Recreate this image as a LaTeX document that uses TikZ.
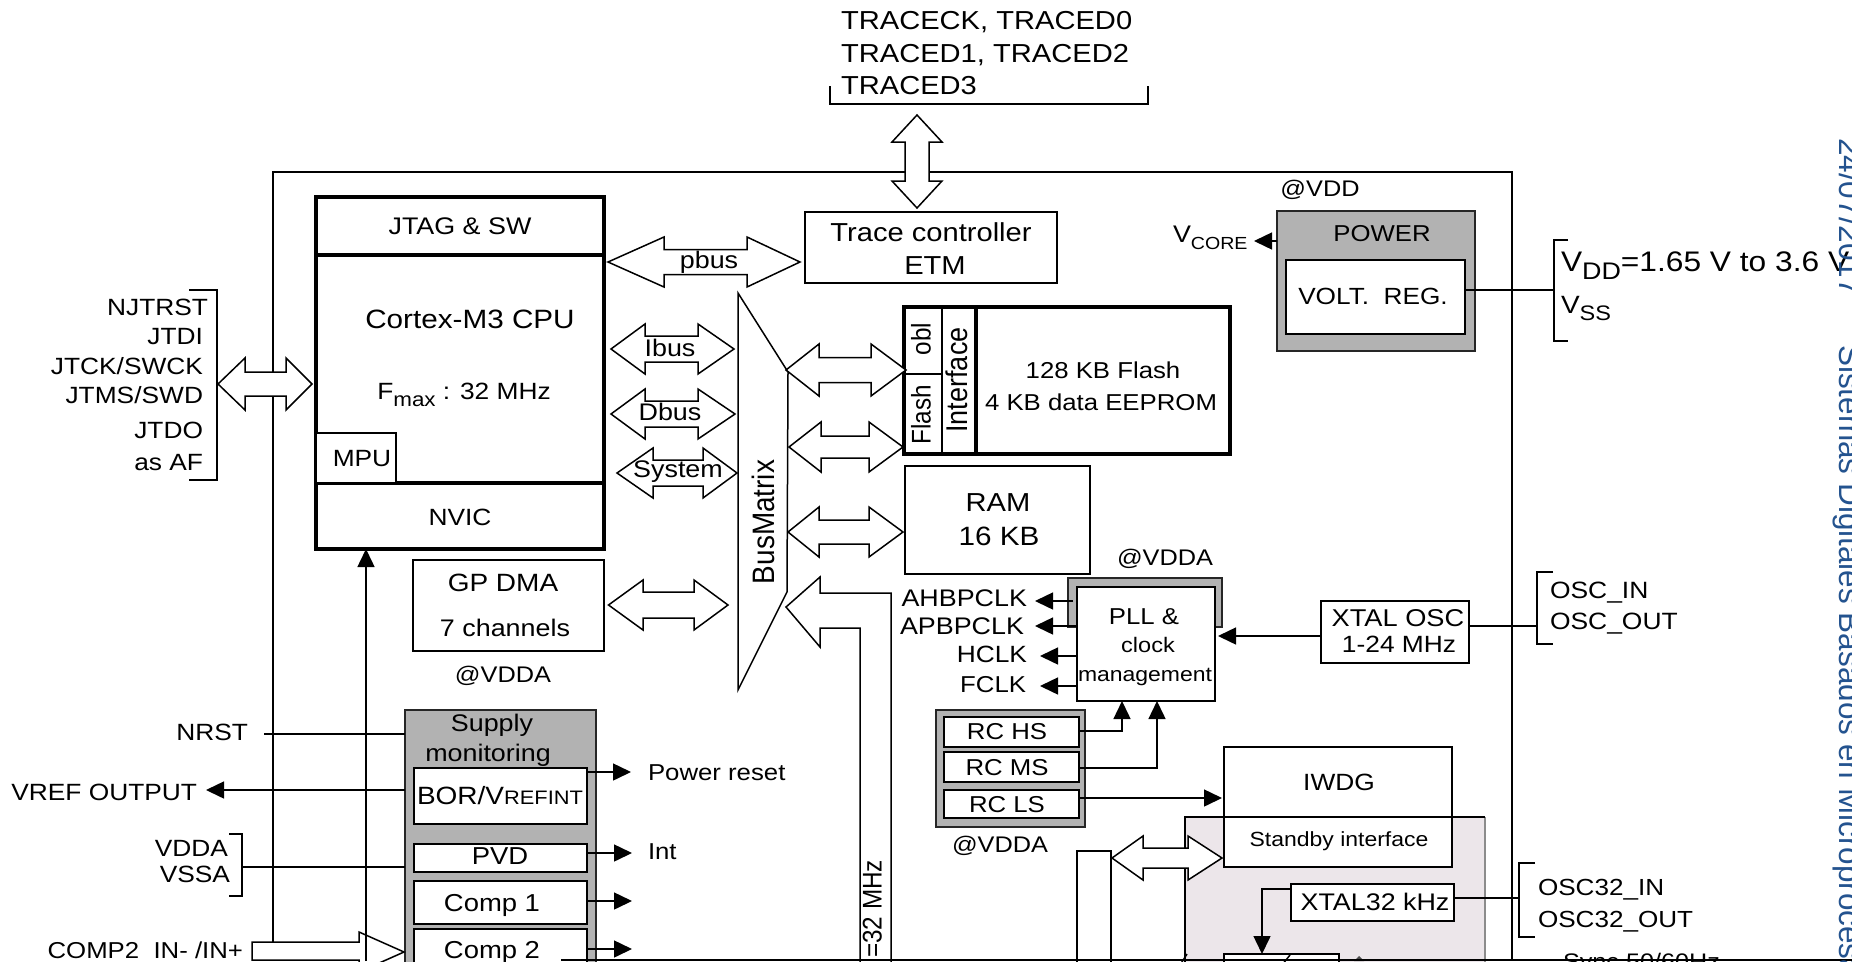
\documentclass[tikz,border=0pt]{standalone}
\usepackage{fontspec}
\setmainfont{Liberation Sans}[FakeStretch=1.12]
\newfontfamily\rotfont{Liberation Sans}[FakeStretch=0.9]
\newfontfamily\bluefont{Liberation Sans}
\usetikzlibrary{arrows.meta}
\definecolor{gbox}{HTML}{B2B2B2}
\definecolor{pinkb}{HTML}{ECE6EA}
\definecolor{blueb}{HTML}{24538F}
\tikzset{
  txt/.style={font={\fontsize{#1}{#1}\selectfont},inner sep=0pt,outer sep=0pt,text height={0.72*#1 pt},text depth=0pt,align=center,text=black},
  rtxt/.style={font={\rotfont\fontsize{#1}{#1}\selectfont},inner sep=0pt,outer sep=0pt,text height={0.72*#1 pt},text depth=0pt,rotate=90,text=black},
  thin box/.style={draw=black,line width=1.4pt,fill=white},
  thick box/.style={draw=black,line width=3.6pt},
  gray box/.style={draw=black!85,line width=1.6pt,fill=gbox},
  wire/.style={draw=black,line width=1.5pt},
  arr/.style={draw=black,line width=1.5pt,-{Triangle[length=18pt,width=17pt]}},
  bigarrow/.style={draw=black,line width=1.5pt,fill=white,line join=miter},
  bluetxt/.style={font={\bluefont\fontsize{31.5}{31.5}\selectfont},text=blueb,rotate=-90,anchor=base west,inner sep=0pt},
}
% name, style, x1, y1, x2, y2
\newcommand{\mybox}[6]{\node[#2,minimum width={(#5-(#3))*1pt},minimum height={(#6-(#4))*1pt},inner sep=0pt,outer sep=0pt] (#1) at ({(#3+#5)/2},{(#4+#6)/2}) {};}
% horizontal double block arrow: xtip1, xbase1, xbase2, xtip2, y, head half, shaft half
\newcommand{\hdouble}[7]{\path[bigarrow] (#1,#5) -- (#2,#5-#6) -- (#2,#5-#7) -- (#3,#5-#7) -- (#3,#5-#6) -- (#4,#5) -- (#3,#5+#6) -- (#3,#5+#7) -- (#2,#5+#7) -- (#2,#5+#6) -- cycle;}
\newcommand{\lowtxt}[2]{\raisebox{-0.28em}{\fontsize{#1}{#1}\selectfont #2}}
\begin{document}
\begin{tikzpicture}[x=1pt,y=-1pt]
\useasboundingbox (0,0) rectangle (1852,961);
\clip (0,0) rectangle (1852,961);
\fill[white] (0,0) rectangle (1852,961);

% outer frame
\coordinate (frameBL) at (273,942);
\coordinate (frameTL) at (273,172);
\coordinate (frameTR) at (1512,172);
\coordinate (frameBR) at (1512,961);
\draw[wire] (frameBL) -- (frameTL) -- (frameTR) -- (frameBR);

% trace pins
\node[txt=26,anchor=west] (tr1) at (841,20) {TRACECK, TRACED0};
\node[txt=26,anchor=west] (tr2) at (841,53) {TRACED1, TRACED2};
\node[txt=26,anchor=west] (tr3) at (841,85) {TRACED3};
\draw[wire] (830,86) -- (830,104) -- (1148,104) -- (1148,86);
\path[bigarrow] (917,115) -- (942,142) -- (929,142) -- (929,181) -- (942,181) -- (917,208) -- (892,181) -- (905,181) -- (905,142) -- (892,142) -- cycle;

% CPU
\mybox{jtag}{thick box}{316}{197}{604}{255}
\mybox{cpu}{thick box}{316}{255}{604}{483}
\mybox{nvic}{thick box}{316}{483}{604}{549}
\mybox{mpu}{thin box}{316}{433}{396}{483}
\node[txt=24] (tjtag) at (460,226) {JTAG \& SW};
\node[txt=26.5] (tcpu) at (470,319) {Cortex-M3 CPU};
\node[txt=23.5] (tfmax) at (464,391) {F\lowtxt{20}{max} : 32 MHz};
\node[txt=23.5] (tmpu) at (362,458) {MPU};
\node[txt=23.5] (tnvic) at (460,517) {NVIC};

% JTAG pins
\draw[wire] (189,290) -- (217,290) -- (217,480) -- (189,480);
\node[txt=23.5,anchor=east] (p1) at (208,307) {NJTRST};
\node[txt=23.5,anchor=east] (p2) at (203,336) {JTDI};
\node[txt=23.5,anchor=east] (p3) at (203,366) {JTCK/SWCK};
\node[txt=23.5,anchor=east] (p4) at (203,395) {JTMS/SWD};
\node[txt=23.5,anchor=east] (p5) at (203,430) {JTDO};
\node[txt=23.5,anchor=east] (p6) at (203,462) {as AF};
\hdouble{218}{245}{286}{312}{384}{26}{12}

% Trace controller
\mybox{trace}{thin box}{805}{212}{1057}{283}
\node[txt=26] (ttrace) at (931,232) {Trace controller};
\node[txt=26] (tetm) at (935,265) {ETM};
\hdouble{608}{664}{747}{800}{262}{25}{12.5}
\node[txt=24] (tpbus) at (709,260) {pbus};

% Bus matrix
\path[bigarrow] (738,293) -- (788,372) -- (787,592) -- (738,690) -- cycle;
\node[rtxt=31] (tbm) at (763,522) {BusMatrix};

\hdouble{611}{645}{698}{734}{349}{25}{13}
\node[txt=24] (tibus) at (670,348) {Ibus};
\hdouble{611}{645}{698}{735}{414}{25}{13}
\node[txt=24] (tdbus) at (670,412) {Dbus};
\hdouble{617}{653}{703}{737}{473}{25}{13}
\node[txt=24] (tsys) at (678,469) {System};

% Flash
\mybox{mem}{thin box}{976}{307}{1230}{454}
\mybox{ifc}{thin box}{942}{307}{976}{454}
\mybox{obl}{thin box}{904}{307}{942}{374}
\mybox{fl}{thin box}{904}{374}{942}{454}
\draw[thick box] (904,307) rectangle (1230,454);
\draw[thick box] (976,307) -- (976,454);
\node[rtxt=27] (tobl) at (921,339) {obl};
\node[rtxt=27] (tfl) at (921,415) {Flash};
\node[rtxt=30] (tif) at (957,380) {Interface};
\node[txt=23] (tf1) at (1103,370) {128 KB Flash};
\node[txt=23] (tf2) at (1101,402) {4 KB data EEPROM};
\hdouble{786}{819}{871}{906}{370}{26}{12.5}
\hdouble{789}{821}{869}{903}{447}{25}{11}
\hdouble{788}{819}{869}{903}{532}{25}{12}

% RAM
\mybox{ram}{thin box}{905}{466}{1090}{574}
\node[txt=26] (tram) at (998,502) {RAM};
\node[txt=26.5] (tram2) at (999,536) {16 KB};

% Power
\mybox{power}{gray box}{1277}{211}{1475}{351}
\mybox{volt}{thin box}{1286}{260}{1465}{334}
\node[txt=23] (tpow) at (1382,233) {POWER};
\node[txt=23.4] (tvolt) at (1373,296) {VOLT.\ \ REG.};
\node[txt=22.6] (tvdd) at (1320,188) {@VDD};
\node[txt=24,anchor=west] (tcore) at (1173,234) {V\lowtxt{17.5}{CORE}};
\coordinate (coreT) at (1254,241);
\draw[arr] (power.west |- coreT) -- (coreT);
\coordinate (vddB) at (1554,290);
\draw[wire] (volt.east |- vddB) -- (vddB);
\draw[wire] (1568,240) -- (1554,240) -- (1554,341) -- (1568,341);
\node[txt=28.3,anchor=west] (tvd) at (1561,261) {V\lowtxt{24}{DD}=1.65 V to 3.6 V};
\node[txt=25,anchor=west] (tvs) at (1561,304) {V\lowtxt{21}{SS}};

% GP DMA
\mybox{dma}{thin box}{413}{560}{604}{651}
\node[txt=25] (tdma) at (503,582) {GP DMA};
\node[txt=24] (tdma2) at (505,628) {7 channels};
\node[txt=22.6] (tv1) at (503,674) {@VDDA};
\hdouble{608.5}{643}{694}{728}{605}{25}{13}

% AHB bus arrow
\path[bigarrow] (891,965) -- (891,593) -- (820,593) -- (820,577) -- (786,607) -- (820,647) -- (820,628) -- (860,628) -- (860,965);
\node[rtxt=27,anchor=east] (tmhz) at (872,860) {=32 MHz};

% PLL
\path[gray box] (1068,627) -- (1068,578) -- (1222,578) -- (1222,627) -- cycle;
\mybox{pll}{thin box}{1077}{587}{1215}{701}
\node[txt=23] (tpll) at (1144,616) {PLL \&};
\node[txt=21] (tclk) at (1148,645) {clock};
\node[txt=20.5] (tman) at (1145,674) {management};
\node[txt=22.6] (tv2) at (1165,557) {@VDDA};
\node[txt=24,anchor=east] (lahb) at (1027,598) {AHBPCLK};
\node[txt=24,anchor=east] (lapb) at (1024,626) {APBPCLK};
\node[txt=23.5,anchor=east] (lhck) at (1027,654) {HCLK};
\node[txt=23,anchor=east] (lfck) at (1026,684) {FCLK};
\coordinate (ahbT) at (1035,601);
\coordinate (apbT) at (1035,626);
\coordinate (hckT) at (1040,656);
\coordinate (fckT) at (1040,686);
\draw[arr] (1073,601) -- (ahbT);
\draw[arr] (pll.west |- apbT) -- (apbT);
\draw[arr] (pll.west |- hckT) -- (hckT);
\draw[arr] (pll.west |- fckT) -- (fckT);

% XTAL OSC
\mybox{xtal}{thin box}{1321}{601}{1469}{663}
\node[txt=24.3] (txt1) at (1398,618) {XTAL OSC};
\node[txt=23.5] (txt2) at (1399,644) {1-24 MHz};
\coordinate (xtalIn) at (1218,636);
\draw[arr] (xtal.west |- xtalIn) -- (xtalIn);
\coordinate (oscB) at (1537,626);
\draw[wire] (xtal.east |- oscB) -- (oscB);
\draw[wire] (1553,572) -- (1537,572) -- (1537,644) -- (1553,644);
\node[txt=23.6,anchor=west] (tosc1) at (1550,590) {OSC\_IN};
\node[txt=23.6,anchor=west] (tosc2) at (1550,621) {OSC\_OUT};

% RC group
\mybox{rcg}{gray box}{936}{710}{1085}{827}
\mybox{rchs}{thin box}{944}{717}{1079}{747}
\mybox{rcms}{thin box}{944}{752}{1079}{782}
\mybox{rcls}{thin box}{944}{790}{1079}{818}
\node[txt=23] (trc1) at (1007,731) {RC HS};
\node[txt=23] (trc2) at (1007,767) {RC MS};
\node[txt=23] (trc3) at (1007,804) {RC LS};
\node[txt=22.6] (tv3) at (1000,844) {@VDDA};
\coordinate (pa) at (1122,701);
\coordinate (pb) at (1157,701);
\coordinate (hsB) at (1122,731);
\coordinate (msB) at (1157,768);
\coordinate (lsT) at (1222,798);
\draw[arr] (rchs.east |- hsB) -- (hsB) -- (pa);
\draw[arr] (rcms.east |- msB) -- (msB) -- (pb);
\draw[arr] (rcls.east |- lsT) -- (lsT);

% Pink standby area
\path[fill=pinkb] (1185,817) rectangle (1485,965);
\draw[wire,draw=black!45] (1485,817) -- (1485,965);
\mybox{iwdg}{thin box}{1224}{747}{1452}{867}
\draw[wire] (1185,965) -- (1185,817) -- (1485,817);
\node[txt=23.5] (tiw) at (1339,782) {IWDG};
\node[txt=20.5] (tsb) at (1339,839) {Standby interface};
\path[bigarrow] (1077,965) -- (1077,851) -- (1111,851) -- (1111,965);
\hdouble{1112}{1143}{1188}{1222}{858}{22}{10}
\mybox{x32}{thin box}{1291}{884}{1454}{921}
\node[txt=24] (tx32) at (1375,902) {XTAL32 kHz};
\coordinate (x32B) at (1519,898);
\coordinate (rtcT) at (1262,954);
\coordinate (x32L) at (1262,889);
\draw[wire] (x32.east |- x32B) -- (x32B);
\draw[wire] (1535,863) -- (1519,863) -- (1519,937) -- (1535,937);
\node[txt=23.3,anchor=west] (to1) at (1538,887) {OSC32\_IN};
\node[txt=23.3,anchor=west] (to2) at (1538,919) {OSC32\_OUT};
\mybox{rtc}{thin box}{1224}{954}{1339}{990}
\draw[wire] (1290,955) -- (1282,965);
\draw[arr] (x32.west |- x32L) -- (x32L) -- (rtcT);
\draw[wire] (1187,954) -- (1180,965);
\fill[black!70] (1354,961) -- (1359,956) -- (1364,961) -- cycle;
\node[txt=22.5,anchor=west] (tsync) at (1563,961) {Sync 50/60Hz};

% Supply monitoring
\mybox{sup}{gray box}{405}{710}{596}{1000}
\mybox{bor}{thin box}{414}{768}{587}{824}
\mybox{pvd}{thin box}{414}{844}{587}{872}
\mybox{c1}{thin box}{414}{881}{587}{924}
\mybox{c2}{thin box}{414}{929}{587}{990}
\node[txt=24] (tsu1) at (492,723) {Supply};
\node[txt=24] (tsu2) at (488,753) {monitoring};
\node[txt=25] (tbor) at (500,795) {BOR/V\fontsize{19.5}{19.5}\selectfont REFINT};
\node[txt=24.5] (tpvd) at (500,856) {PVD};
\node[txt=24.5] (tc1) at (492,903) {Comp 1};
\node[txt=24.5] (tc2) at (492,950) {Comp 2};

\coordinate (prT) at (631,772);
\coordinate (intT) at (632,853);
\coordinate (c1T) at (632,901);
\coordinate (c2T) at (632,949);
\draw[arr] (bor.east |- prT) -- (prT);
\draw[arr] (pvd.east |- intT) -- (intT);
\draw[arr] (c1.east |- c1T) -- (c1T);
\draw[arr] (c2.east |- c2T) -- (c2T);
\node[txt=23,anchor=west] (tpr) at (648,772) {Power reset};
\node[txt=23,anchor=west] (tint) at (648,851) {Int};

\node[txt=23.5,anchor=east] (tnrst) at (248,732) {NRST};
\coordinate (nrstB) at (264,734);
\draw[wire] (nrstB) -- (sup.west |- nrstB);
\node[txt=23.5,anchor=east] (tvref) at (197,792) {VREF OUTPUT};
\coordinate (vrefT) at (206,790);
\draw[arr] (sup.west |- vrefT) -- (vrefT);
\node[txt=23.5,anchor=east] (tvda) at (228,848) {VDDA};
\node[txt=23.5,anchor=east] (tvsa) at (230,874) {VSSA};
\draw[wire] (229,834) -- (242,834) -- (242,896) -- (229,896);
\coordinate (vddaB) at (242,867);
\draw[wire] (vddaB) -- (sup.west |- vddaB);

% COMP2 input arrow
\path[bigarrow] (252,960) -- (252,942) -- (359,942) -- (359,932) -- (404,952) -- (359,972) -- (359,960) -- cycle;
\node[txt=23,anchor=east] (tcomp) at (243,950) {COMP2\ \ IN- /IN+};

% NVIC interrupt line
\coordinate (nvicIn) at (366,961);
\draw[arr] (nvicIn) -- (nvic.south -| nvicIn);

% bottom edge and watermark
\draw[black,line width=2.4pt] (561,960) -- (1852,960);
\node[bluetxt] (tdate) at (1839,138) {24/07/2017};
\node[bluetxt] (ttitle) at (1839,345) {Sistemas Digitales Basados en Microprocesadores};
\end{tikzpicture}
\end{document}
